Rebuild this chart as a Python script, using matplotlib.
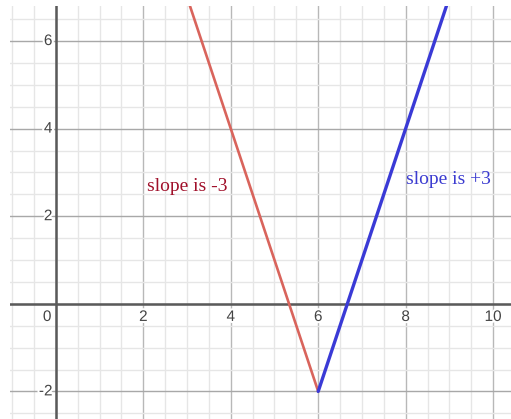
import numpy as np
import matplotlib
matplotlib.use("Agg")
import matplotlib.pyplot as plt
import matplotlib.patheffects as pe

# two branches meeting at the vertex (6, -2)
left_x = [6, 3]
left_y = [-2, 7]
right_x = [6, 9]
right_y = [-2, 7]

x_ticks = [0, 2, 4, 6, 8, 10]
y_ticks = [-2, 2, 4, 6]

fig = plt.figure(figsize=(5.11, 4.19), dpi=100)
ax = fig.add_axes([10 / 511, 0, 501 / 511, 413 / 419])
ax.set_xlim(-1.05, 10.41)
ax.set_ylim(-2.63, 6.80)

# grid: light every 0.5, darker every 2
for v in np.arange(-1.0, 10.5, 0.5):
    major = abs(v / 2 - round(v / 2)) < 1e-9
    ax.axvline(v, color="#b8b8b8" if major else "#e6e6e6", lw=1.0, zorder=0)
for v in np.arange(-2.5, 7.0, 0.5):
    major = abs(v / 2 - round(v / 2)) < 1e-9
    ax.axhline(v, color="#a8a8a8" if major else "#e6e6e6", lw=1.0, zorder=0)

ax.axvline(0, color="#5a5a5a", lw=1.8, zorder=1)
ax.axhline(0, color="#5a5a5a", lw=1.8, zorder=1)

ax.plot(left_x, left_y, color="#d9645c", lw=1.9, zorder=3, solid_capstyle="round")
ax.plot(right_x, right_y, color="#3a3ad6", lw=2.4, zorder=4, solid_capstyle="round")

halo = [pe.withStroke(linewidth=3, foreground="white")]
for t in x_ticks:
    xpos = -0.2 if t == 0 else t
    ax.text(xpos, -0.3, str(t), ha="center", va="center", fontsize=11,
            family="Liberation Sans", color="#444444", path_effects=halo, zorder=2)
for t in y_ticks:
    ax.text(-0.08, t, str(t), ha="right", va="center", fontsize=11,
            family="Liberation Sans", color="#444444", path_effects=halo, zorder=2)

ax.text(2.08, 2.69, "slope is -3", ha="left", va="center", fontsize=14,
        family="Liberation Serif", color="#a0102a", zorder=5)
ax.text(8.0, 2.83, "slope is +3", ha="left", va="center", fontsize=14,
        family="Liberation Serif", color="#3b3bd0", zorder=5)

ax.set_xticks([])
ax.set_yticks([])
for s in ax.spines.values():
    s.set_visible(False)

fig.savefig("out.png", dpi=100, facecolor="white")
